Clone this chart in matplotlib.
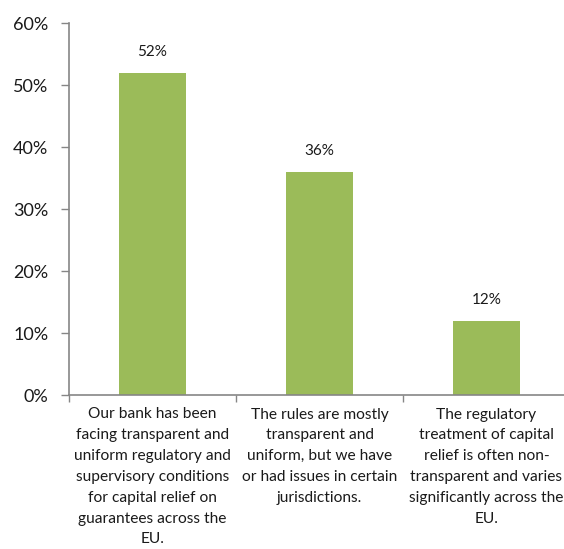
import matplotlib.pyplot as plt
from matplotlib.ticker import FuncFormatter

plt.rcParams['font.family'] = ['Lato', 'DejaVu Sans']

categories = [
    "Our bank has been\nfacing transparent and\nuniform regulatory and\nsupervisory conditions\nfor capital relief on\nguarantees across the\nEU.",
    "The rules are mostly\ntransparent and\nuniform, but we have\nor had issues in certain\njurisdictions.",
    "The regulatory\ntreatment of capital\nrelief is often non-\ntransparent and varies\nsignificantly across the\nEU.",
]
values = [0.52, 0.36, 0.12]
value_labels = ["52%", "36%", "12%"]

fig = plt.figure(figsize=(5.64, 5.49), dpi=100)
ax = fig.add_axes([69 / 564, 1 - 395 / 549, 501 / 564, 372 / 549])

x = list(range(len(values)))
ax.bar(x, values, width=0.4, color='#9BBB59')
for xi, v, lab in zip(x, values, value_labels):
    ax.text(xi, v + 0.022, lab, ha='center', va='bottom', fontsize=11, color='#1a1a1a')

ax.set_xlim(-0.5, 2.5)
ax.set_ylim(0, 0.6)
ax.set_yticks([0, 0.1, 0.2, 0.3, 0.4, 0.5, 0.6])
ax.yaxis.set_major_formatter(FuncFormatter(lambda v, p: f"{v * 100:.0f}%"))

ax.set_xticks(x)
ax.set_xticklabels(categories, fontsize=11.2, linespacing=1.62, color='#1a1a1a')
ax.set_xticks([-0.5, 0.5, 1.5], minor=True)
ax.tick_params(axis='x', which='major', length=0, pad=9)
ax.tick_params(axis='x', which='minor', length=5, color='#868686', width=1)
ax.tick_params(axis='y', length=6, color='#868686', width=1, labelsize=13, colors='#1a1a1a', pad=9)
ax.tick_params(axis='y', color='#868686')

for s in ['top', 'right']:
    ax.spines[s].set_visible(False)
for s in ['left', 'bottom']:
    ax.spines[s].set_color('#868686')
    ax.spines[s].set_linewidth(1.2)

fig.savefig('out.png', dpi=100)
